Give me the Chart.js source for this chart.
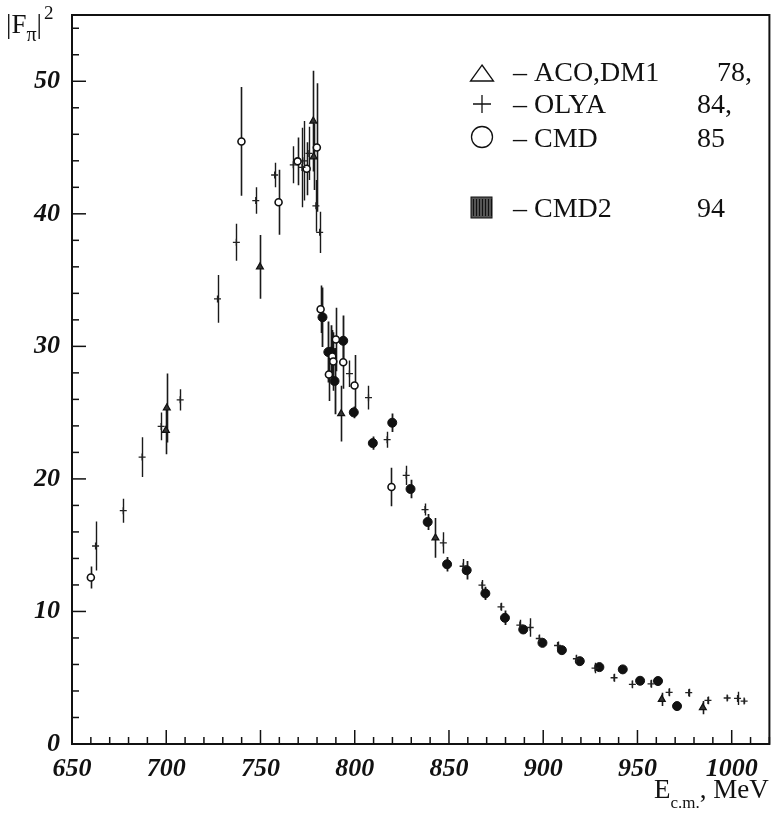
<!DOCTYPE html>
<html lang="en">
<head>
    <meta charset="UTF-8">
    <title>Pion form factor |F_pi|^2</title>
    <script src="https://cdn.jsdelivr.net/npm/chart.js"></script>
    <style>
        body {
            margin: 0;
            padding: 0;
            background: #fff;
        }
        #chart-container {
            width: 775px;
            height: 813px;
            position: relative;
        }
    </style>
</head>
<body>
    <div id="chart-container">
        <canvas id="myChart"></canvas>
    </div>
    <script>
        // ACO, DM1 (triangles)
        const acoE   = [699.8, 700.3, 749.7, 778.0, 778.2, 792.8, 842.8, 962.9, 984.7];
        const acoF   = [23.66, 25.35, 36.0, 47.0, 44.3, 24.92, 15.55, 3.37, 2.74];
        const acoErr = [1.8, 2.6, 2.4, 3.8, 2.5, 2.1, 1.5, 0.5, 0.5];

        // OLYA (crosses)
        const olyaE   = [662.5, 677.2, 687.2, 697.3, 707.4, 727.2, 737.2, 747.5, 757.5, 767.4, 772.0, 773.2, 775.7, 779.4, 781.4,
                         797.2, 807.3, 817.2, 827.3, 837.3, 847.0, 857.5, 867.5, 877.6, 887.6, 893.1, 897.9, 907.6, 917.6,
                         927.5, 937.6, 947.3, 957.2, 966.8, 977.2, 987.4, 997.6, 1003.1, 1006.6];
        const olyaF   = [14.94, 17.6, 21.65, 23.96, 25.97, 33.58, 37.85, 41.0, 42.93, 43.7, 43.5, 44.0, 44.56, 40.6, 38.6,
                         27.94, 26.13, 22.96, 20.27, 17.69, 15.17, 13.41, 11.98, 10.35, 8.97, 8.79, 7.96, 7.43, 6.43,
                         5.73, 5.0, 4.5, 4.54, 3.9, 3.87, 3.29, 3.47, 3.44, 3.24];
        const olyaErr = [1.85, 0.9, 1.5, 1.05, 0.8, 1.8, 1.4, 1.0, 0.93, 1.4, 3.0, 3.0, 2.0, 1.95, 1.55,
                         1.0, 0.9, 0.6, 0.73, 0.45, 0.8, 0.55, 0.4, 0.3, 0.4, 0.7, 0.3, 0.3, 0.3,
                         0.4, 0.3, 0.3, 0.3, 0.3, 0.3, 0.3, 0.2, 0.5, 0.2];

        // CMD (open circles)
        const cmdE   = [660.0, 739.9, 759.6, 769.7, 774.5, 779.9, 781.9, 786.3, 788.1, 788.6, 790.0, 793.9, 799.9, 819.5];
        const cmdF   = [12.56, 45.46, 40.87, 43.96, 43.4, 45.0, 32.8, 27.88, 29.24, 28.86, 30.52, 28.8, 27.05, 19.39];
        const cmdErr = [0.83, 4.1, 2.45, 1.8, 2.0, 4.85, 1.8, 2.0, 2.0, 2.2, 2.4, 2.0, 2.3, 1.46];

        // CMD2 (filled)
        const cmd2E   = [782.9, 786.0, 787.5, 789.3, 793.9, 799.5, 809.6, 819.9, 829.6, 838.7, 849.0, 859.4, 869.3,
                         879.7, 889.4, 899.6, 909.9, 919.4, 929.8, 942.2, 951.4, 960.9, 971.0];
        const cmd2F   = [32.2, 29.57, 29.6, 27.38, 30.42, 25.02, 22.7, 24.24, 19.24, 16.75, 13.56, 13.11, 11.36,
                         9.52, 8.64, 7.63, 7.08, 6.25, 5.8, 5.63, 4.77, 4.75, 2.86];
        const cmd2Err = [2.25, 2.3, 2.0, 2.5, 1.9, 0.45, 0.5, 0.7, 0.7, 0.6, 0.55, 0.7, 0.5,
                         0.55, 0.25, 0.25, 0.2, 0.2, 0.2, 0.2, 0.2, 0.2, 0.2];

        const xTickLabels = [650, 700, 750, 800, 850, 900, 950, 1000];
        const yTickLabels = [0, 10, 20, 30, 40, 50];

        const legendRows = [
            { name: '\u2013 ACO,DM1', year: '78,', yearX: 717 },
            { name: '\u2013 OLYA', year: '84,', yearX: 697 },
            { name: '\u2013 CMD', year: '85', yearX: 697 },
            { name: '\u2013 CMD2', year: '94', yearX: 697 }
        ];

        const SERIF = '"Liberation Serif", "Times New Roman", serif';

        function points(xs, ys, es) {
            return xs.map((v, i) => ({ x: v, y: ys[i], e: es[i] }));
        }

        // vertical error bars, under the markers
        const errorBars = {
            id: 'errorBars',
            beforeDatasetsDraw(chart) {
                const { ctx, scales: { x, y }, chartArea } = chart;
                ctx.save();
                ctx.beginPath();
                ctx.rect(chartArea.left, chartArea.top, chartArea.right - chartArea.left, chartArea.bottom - chartArea.top);
                ctx.clip();
                ctx.strokeStyle = '#1a1a1a';
                chart.data.datasets.forEach(ds => {
                    ctx.lineWidth = ds.errWidth;
                    ds.data.forEach(p => {
                        const px = Math.round(x.getPixelForValue(p.x)) + 0.5;
                        ctx.beginPath();
                        ctx.moveTo(px, y.getPixelForValue(p.y - p.e));
                        ctx.lineTo(px, y.getPixelForValue(p.y + p.e));
                        ctx.stroke();
                    });
                });
                ctx.restore();
            }
        };

        // frame, inward ticks, axis titles and legend
        const decorations = {
            id: 'decorations',
            afterDraw(chart) {
                const { ctx, scales: { x, y }, chartArea: a } = chart;
                ctx.save();
                ctx.strokeStyle = '#111';
                ctx.lineWidth = 2;
                ctx.strokeRect(a.left, a.top, a.right - a.left, a.bottom - a.top);

                ctx.lineWidth = 1.5;
                for (let v = 650; v <= 1020; v += 10) {
                    const px = x.getPixelForValue(v);
                    const len = v % 50 === 0 ? 14 : 7;
                    ctx.beginPath();
                    ctx.moveTo(px, a.bottom);
                    ctx.lineTo(px, a.bottom - len);
                    ctx.stroke();
                }
                for (let v = 0; v <= 55; v += 2) {
                    const py = y.getPixelForValue(v);
                    const len = v % 10 === 0 ? 14 : 7;
                    ctx.beginPath();
                    ctx.moveTo(a.left, py);
                    ctx.lineTo(a.left + len, py);
                    ctx.stroke();
                }

                ctx.fillStyle = '#111';
                ctx.textBaseline = 'alphabetic';
                ctx.textAlign = 'left';

                // y title |F_pi|^2
                ctx.font = '27px ' + SERIF;
                ctx.fillText('|F', 6, 33);
                let w = ctx.measureText('|F').width;
                ctx.font = '20px ' + SERIF;
                ctx.fillText('\u03c0', 6 + w, 41);
                w += ctx.measureText('\u03c0').width;
                ctx.font = '27px ' + SERIF;
                ctx.fillText('|', 6 + w, 33);
                w += ctx.measureText('|').width;
                ctx.font = '19px ' + SERIF;
                ctx.fillText('2', 8 + w, 19);

                // x title E_c.m., MeV
                ctx.font = '27px ' + SERIF;
                ctx.fillText('E', 654, 798);
                let xw = 654 + ctx.measureText('E').width;
                ctx.font = '17px ' + SERIF;
                ctx.fillText('c.m.', xw, 808);
                xw += ctx.measureText('c.m.').width;
                ctx.font = '27px ' + SERIF;
                ctx.fillText(', MeV', xw, 798);

                // legend
                const baselines = [81, 113, 147, 217];
                const mx = 482;
                ctx.lineWidth = 1.3;
                // triangle
                ctx.beginPath();
                ctx.moveTo(mx, 65);
                ctx.lineTo(mx + 11.5, 81);
                ctx.lineTo(mx - 11.5, 81);
                ctx.closePath();
                ctx.stroke();
                // plus
                ctx.beginPath();
                ctx.moveTo(mx - 9, 104);
                ctx.lineTo(mx + 9, 104);
                ctx.moveTo(mx, 95);
                ctx.lineTo(mx, 113);
                ctx.stroke();
                // circle
                ctx.beginPath();
                ctx.arc(mx, 137, 10.5, 0, Math.PI * 2);
                ctx.stroke();
                // hatched square
                ctx.fillStyle = '#555';
                ctx.fillRect(mx - 11, 197, 21, 21);
                ctx.strokeStyle = '#111';
                ctx.lineWidth = 1;
                for (let i = 0; i < 7; i++) {
                    ctx.beginPath();
                    ctx.moveTo(mx - 9 + i * 3 + 0.5, 199);
                    ctx.lineTo(mx - 9 + i * 3 + 0.5, 216);
                    ctx.stroke();
                }
                ctx.strokeRect(mx - 11, 197, 21, 21);

                ctx.fillStyle = '#111';
                ctx.font = '28px ' + SERIF;
                legendRows.forEach((r, i) => {
                    ctx.fillText(r.name, 513, baselines[i]);
                    ctx.fillText(r.year, r.yearX, baselines[i]);
                });
                ctx.restore();
            }
        };

        const ctx = document.getElementById('myChart').getContext('2d');
        const myChart = new Chart(ctx, {
            type: 'scatter',
            data: {
                datasets: [
                    {
                        label: 'ACO,DM1 78',
                        data: points(acoE, acoF, acoErr),
                        pointStyle: 'triangle',
                        pointRadius: 4,
                        backgroundColor: '#333',
                        borderColor: '#111',
                        borderWidth: 1.2,
                        errWidth: 1.6
                    },
                    {
                        label: 'OLYA 84',
                        data: points(olyaE, olyaF, olyaErr),
                        pointStyle: 'cross',
                        pointRadius: 3.5,
                        borderColor: '#222',
                        borderWidth: 1.3,
                        errWidth: 1.4
                    },
                    {
                        label: 'CMD 85',
                        data: points(cmdE, cmdF, cmdErr),
                        pointStyle: 'circle',
                        pointRadius: 3.5,
                        backgroundColor: '#fff',
                        borderColor: '#111',
                        borderWidth: 1.6,
                        errWidth: 1.6
                    },
                    {
                        label: 'CMD2 94',
                        data: points(cmd2E, cmd2F, cmd2Err),
                        pointStyle: 'circle',
                        pointRadius: 4.5,
                        backgroundColor: '#111',
                        borderColor: '#111',
                        borderWidth: 1,
                        errWidth: 1.8
                    }
                ]
            },
            options: {
                responsive: true,
                maintainAspectRatio: false,
                animation: false,
                layout: {
                    padding: { top: 15, right: 5, left: 0, bottom: 0 }
                },
                scales: {
                    x: {
                        type: 'linear',
                        min: 650,
                        max: 1020,
                        afterFit: s => { s.height = 69; s.paddingLeft = 0; s.paddingRight = 0; },
                        afterBuildTicks: s => { s.ticks = xTickLabels.map(v => ({ value: v })); },
                        grid: { display: false, drawTicks: false },
                        border: { display: false },
                        ticks: {
                            padding: 10,
                            autoSkip: false,
                            maxRotation: 0,
                            color: '#111',
                            font: { family: SERIF, size: 26, style: 'italic', weight: 'bold' },
                            callback: v => String(v)
                        }
                    },
                    y: {
                        min: 0,
                        max: 55,
                        afterFit: s => { s.width = 72; s.paddingTop = 0; s.paddingBottom = 0; },
                        afterBuildTicks: s => { s.ticks = yTickLabels.map(v => ({ value: v })); },
                        grid: { display: false, drawTicks: false },
                        border: { display: false },
                        ticks: {
                            padding: 12,
                            color: '#111',
                            font: { family: SERIF, size: 26, style: 'italic', weight: 'bold' },
                            callback: v => String(v)
                        }
                    }
                },
                plugins: {
                    legend: { display: false },
                    tooltip: { enabled: false }
                }
            },
            plugins: [errorBars, decorations]
        });
    </script>
</body>
</html>
